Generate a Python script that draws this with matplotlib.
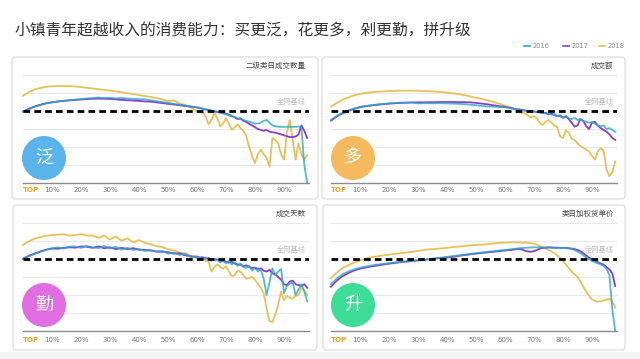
import matplotlib
matplotlib.use("Agg")
import matplotlib.pyplot as plt
from matplotlib.patches import Circle, FancyBboxPatch, Rectangle

plt.rcParams['font.family'] = ['Noto Sans CJK SC', 'DejaVu Sans']

# ---------------- data ----------------
title = "小镇青年超越收入的消费能力：买更泛，花更多，剁更勤，拼升级"
years = ["2016", "2017", "2018"]
tick_pos = [2.6, 10, 20, 30, 40, 50, 60, 70, 80, 90]
tick_labels = ["TOP", "10%", "20%", "30%", "40%", "50%", "60%", "70%", "80%", "90%"]
baseline_value = 4
baseline_label = "全网基线"

X = [0, 2, 4, 6, 8, 10, 12, 14, 16, 18, 20, 22, 24, 26, 28, 30, 32, 34, 36, 38,
     40, 42, 44, 46, 48, 50, 52, 54, 56, 58,
     60, 61, 62, 63, 64, 65, 66, 67, 68, 69, 70, 71, 72, 73, 74, 75, 76, 77, 78, 79,
     80, 81, 82, 83, 84, 85, 86, 87, 88, 89, 90, 91, 92, 93, 94, 95, 96, 97, 98]

panel_titles = ["二级类目成交数量", "成交额", "成交天数", "类目加权货单价"]
badges = ["泛", "多", "勤", "升"]

# panel 1: 二级类目成交数量
p1_2016 = [3.95, 4.1, 4.23, 4.33, 4.42, 4.48, 4.53, 4.57, 4.6, 4.63, 4.66, 4.7, 4.72, 4.75, 4.72, 4.74, 4.7, 4.73, 4.69, 4.68,
           4.66, 4.65, 4.6, 4.55, 4.5, 4.45, 4.4, 4.35, 4.3, 4.25,
           4.2, 4.17, 4.12, 4.1, 4.06, 4.02, 4.0, 3.96, 3.9, 3.86, 3.82, 3.75, 3.7, 3.65, 3.6, 3.55, 3.5, 3.45, 3.4, 3.35,
           3.3, 3.3, 3.35, 3.45, 3.5, 3.35, 3.2, 3.15, 3.13, 3.12, 3.12, 3.12, 3.12, 3.12, 3.12, 3.14, 3.1, 1.0, 0.0]
p1_2017 = [3.97, 4.12, 4.25, 4.35, 4.43, 4.48, 4.53, 4.56, 4.59, 4.62, 4.64, 4.66, 4.68, 4.69, 4.68, 4.67, 4.65, 4.62, 4.6, 4.58,
           4.56, 4.53, 4.52, 4.48, 4.44, 4.4, 4.36, 4.32, 4.28, 4.24,
           4.2, 4.17, 4.12, 4.08, 4.05, 4.02, 3.98, 3.95, 3.92, 3.9, 3.85, 3.8, 3.72, 3.65, 3.55, 3.6, 3.45, 3.4, 3.28, 3.2,
           3.1, 3.0, 2.95, 2.9, 2.95, 2.85, 2.82, 2.8, 2.75, 2.7, 2.65, 2.6, 2.55, 2.55, 2.58, 2.7, 3.2, 2.9, 2.5]
p1_2018 = [4.85, 5.05, 5.2, 5.28, 5.34, 5.37, 5.39, 5.39, 5.38, 5.36, 5.33, 5.29, 5.25, 5.21, 5.17, 5.13, 5.09, 5.04, 4.99, 4.94,
           4.88, 4.83, 4.78, 4.72, 4.65, 4.55, 4.58, 4.42, 4.32, 4.18,
           3.98, 3.92, 3.9, 3.7, 3.25, 3.5, 3.87, 3.6, 3.15, 3.3, 3.6, 3.3, 2.95, 3.1, 3.25, 3.05, 2.9, 2.6, 2.0, 1.5,
           1.1, 1.6, 1.85, 1.6, 1.4, 0.9, 2.5, 2.4, 2.2, 1.6, 1.3, 2.8, 3.5, 2.4, 1.3, 2.2, 1.6, 1.3, 1.55]

# panel 2: 成交额
p2_2016 = [3.5, 3.73, 3.9, 4.03, 4.14, 4.22, 4.28, 4.32, 4.36, 4.39, 4.42, 4.44, 4.46, 4.47, 4.48, 4.42, 4.43, 4.43, 4.43, 4.43,
           4.42, 4.41, 4.4, 4.38, 4.35, 4.32, 4.28, 4.25, 4.24, 4.22,
           4.2, 4.18, 4.15, 4.12, 4.1, 4.07, 4.05, 4.02, 4.0, 3.98, 3.95, 3.97, 3.9, 3.92, 3.85, 3.88, 3.8, 3.82, 3.75, 3.7,
           3.65, 3.72, 3.6, 3.55, 3.62, 3.5, 3.55, 3.45, 3.4, 3.35, 3.4, 3.3, 3.2, 3.15, 3.2, 3.0, 3.05, 2.95, 2.85]
p2_2017 = [3.46, 3.7, 3.87, 4.0, 4.12, 4.21, 4.27, 4.31, 4.35, 4.38, 4.41, 4.43, 4.45, 4.46, 4.47, 4.48, 4.48, 4.49, 4.49, 4.5,
           4.5, 4.5, 4.49, 4.49, 4.48, 4.45, 4.41, 4.37, 4.32, 4.27,
           4.23, 4.2, 4.17, 4.13, 4.1, 4.08, 4.05, 4.03, 4.0, 3.97, 3.99, 3.93, 3.95, 3.88, 3.9, 3.82, 3.85, 3.78, 3.72, 3.75,
           3.62, 3.7, 3.55, 3.35, 3.13, 3.2, 3.55, 3.45, 3.15, 3.0, 3.35, 3.4, 3.2, 3.05, 2.95, 2.85, 2.7, 2.5, 2.4]
p2_2018 = [4.24, 4.45, 4.63, 4.76, 4.87, 4.95, 5.0, 5.04, 5.07, 5.09, 5.11, 5.12, 5.13, 5.13, 5.13, 5.12, 5.11, 5.1, 5.08, 5.05,
           5.02, 4.98, 4.94, 4.88, 4.81, 4.74, 4.67, 4.59, 4.5, 4.4,
           4.3, 4.25, 4.2, 4.12, 4.05, 3.96, 3.9, 3.85, 3.75, 3.65, 3.7, 3.6, 3.35, 3.22, 3.4, 3.5, 3.35, 3.2, 3.1, 2.6,
           2.5, 2.94, 2.8, 2.45, 2.4, 2.2, 2.05, 1.95, 1.85, 1.75, 1.5, 1.3, 1.75, 1.93, 1.8, 0.75, 0.38, 0.6, 1.2]

# panel 3: 成交天数
p3_2016 = [4.0, 4.15, 4.28, 4.4, 4.5, 4.6, 4.65, 4.58, 4.68, 4.7, 4.62, 4.72, 4.65, 4.6, 4.72, 4.58, 4.68, 4.52, 4.62, 4.5,
           4.55, 4.45, 4.5, 4.4, 4.45, 4.3, 4.35, 4.22, 4.28, 4.1,
           4.15, 4.05, 3.95, 4.08, 4.0, 3.9, 4.02, 3.95, 3.8, 3.92, 3.75, 3.9, 3.7, 3.8, 3.62, 3.75, 3.55, 3.5, 3.62, 3.35,
           3.5, 3.3, 3.4, 2.9, 2.0, 2.7, 3.48, 3.1, 3.3, 3.45, 2.1, 2.5, 2.65, 2.7, 2.0, 2.3, 2.6, 2.2, 1.65]
p3_2017 = [4.02, 4.18, 4.3, 4.42, 4.52, 4.58, 4.57, 4.62, 4.65, 4.63, 4.7, 4.68, 4.62, 4.7, 4.6, 4.65, 4.55, 4.62, 4.55, 4.6,
           4.52, 4.5, 4.47, 4.42, 4.4, 4.38, 4.3, 4.32, 4.2, 4.15,
           4.12, 4.08, 4.1, 4.02, 4.05, 3.98, 3.95, 3.98, 3.9, 3.88, 3.85, 3.8, 3.85, 3.75, 3.7, 3.68, 3.6, 3.65, 3.55, 3.5,
           3.52, 3.45, 3.48, 3.35, 3.3, 3.4, 3.2, 3.15, 3.0, 2.85, 2.6, 2.55, 2.75, 2.8, 2.6, 2.55, 2.5, 2.6, 2.4]
p3_2018 = [4.78, 4.98, 5.13, 5.22, 5.29, 5.33, 5.35, 5.38, 5.3, 5.33, 5.38, 5.3, 5.3, 5.18, 5.3, 5.08, 5.25, 5.02, 5.15, 4.92,
           5.05, 4.9, 4.82, 4.72, 4.66, 4.55, 4.48, 4.36, 4.32, 4.15,
           4.05, 4.0, 3.98, 3.9, 3.85, 3.3, 3.55, 3.7, 3.55, 3.45, 3.6, 3.3, 3.05, 3.1, 3.35, 3.3, 3.1, 2.9, 2.95, 3.0,
           2.85, 2.6, 2.4, 2.1, 1.25, 0.55, 0.5, 0.9, 1.45, 2.2, 1.7, 1.95, 1.85, 1.8, 1.95, 2.0, 2.4, 2.25, 2.0]

# panel 4: 类目加权货单价
p4_2016 = [2.6, 2.92, 3.15, 3.3, 3.42, 3.51, 3.58, 3.64, 3.69, 3.73, 3.77, 3.81, 3.84, 3.88, 3.91, 3.94, 3.97, 4.0, 4.04, 4.08,
           4.12, 4.16, 4.2, 4.24, 4.28, 4.32, 4.36, 4.4, 4.43, 4.47,
           4.5, 4.52, 4.54, 4.56, 4.58, 4.6, 4.61, 4.62, 4.63, 4.64, 4.65, 4.65, 4.65, 4.64, 4.64, 4.63, 4.63, 4.62, 4.62, 4.62,
           4.61, 4.6, 4.58, 4.55, 4.5, 4.42, 4.32, 4.2, 4.08, 3.98, 3.9, 3.82, 3.76, 3.7, 3.62, 3.45, 3.1, 1.2, 0.0]
p4_2017 = [2.46, 2.8, 3.05, 3.22, 3.36, 3.46, 3.53, 3.59, 3.64, 3.69, 3.74, 3.78, 3.82, 3.85, 3.89, 3.92, 3.95, 3.98, 4.02, 4.05,
           4.08, 4.12, 4.17, 4.22, 4.26, 4.3, 4.34, 4.37, 4.4, 4.44,
           4.47, 4.49, 4.5, 4.52, 4.55, 4.56, 4.52, 4.45, 4.42, 4.4, 4.44, 4.5, 4.58, 4.62, 4.63, 4.65, 4.64, 4.63, 4.63, 4.62,
           4.62, 4.62, 4.6, 4.58, 4.55, 4.5, 4.43, 4.32, 4.2, 4.08, 3.95, 3.9, 3.82, 3.75, 3.68, 3.55, 3.42, 3.2, 2.5]
p4_2018 = [2.93, 3.25, 3.5, 3.66, 3.8, 3.92, 4.02, 4.1, 4.15, 4.2, 4.24, 4.28, 4.32, 4.36, 4.4, 4.45, 4.5, 4.54, 4.56, 4.59,
           4.62, 4.66, 4.69, 4.72, 4.76, 4.78, 4.8, 4.82, 4.86, 4.9,
           4.91, 4.92, 4.92, 4.93, 4.92, 4.92, 4.9, 4.92, 4.9, 4.88, 4.85, 4.8, 4.72, 4.65, 4.58, 4.5, 4.42, 4.32, 4.2, 4.05,
           3.9, 3.7, 3.5, 3.3, 3.15, 3.0, 2.75, 2.45, 2.2, 1.95, 1.75, 1.68, 1.63, 1.65, 1.7, 1.75, 1.8, 1.65, 1.3]

panels_data = [
    (p1_2016, p1_2017, p1_2018),
    (p2_2016, p2_2017, p2_2018),
    (p3_2016, p3_2017, p3_2018),
    (p4_2016, p4_2017, p4_2018),
]

# ---------------- style / layout ----------------
W, H = 640, 359
C2016, C2017, C2018 = "#2AA6C2", "#8E3CC8", "#E6C15C"
badge_colors = ["#5AB4EA", "#F5B95F", "#E06EE2", "#3DDC97"]

# (x of 0%, y of value 0, frame box x0,y0,x1,y1, badge centre, tick label pad)
layout = [
    (23, 183, (12, 57, 318, 199), (44, 158), 3.0),
    (331, 183, (322, 57, 625, 199), (353, 158), 3.0),
    (23, 331, (13, 205, 317, 350), (44, 305), 4.5),
    (331, 331, (323, 205, 625, 350), (353, 305), 4.5),
]
PX_PER_PCT = 2.9
PX_PER_UNIT = 18
XMAX = 98.5
YMAX = 6.8

fig = plt.figure(figsize=(W / 100, H / 100), dpi=100)
fig.patch.set_facecolor("white")

bg = fig.add_axes([0, 0, 1, 1], zorder=0)
bg.set_xlim(0, W); bg.set_ylim(H, 0); bg.axis("off")
bg.add_patch(Rectangle((0, 352), W, 7, facecolor="#F3F3F3", edgecolor="none"))

fg = fig.add_axes([0, 0, 1, 1], zorder=5)
fg.set_xlim(0, W); fg.set_ylim(H, 0); fg.axis("off")
fg.patch.set_alpha(0)

fg.text(15, 31, title, fontsize=11.3, color="#333333", va="center", ha="left")

# legend
for (x0, col, lab) in [(524, C2016, years[0]), (563, C2017, years[1]), (599, C2018, years[2])]:
    fg.plot([x0, x0 + 6], [46, 46], color=col, lw=1.2)
    fg.text(x0 + 9, 46, lab, fontsize=4.8, color="#888888", va="center", ha="left",
            family="DejaVu Sans")

for i, (x0, y0, frame, bc, pad) in enumerate(layout):
    fx0, fy0, fx1, fy1 = frame
    bg.add_patch(FancyBboxPatch((fx0, fy0), fx1 - fx0, fy1 - fy0,
                                boxstyle="round,pad=0,rounding_size=3",
                                facecolor="white", edgecolor="#DDDDDD", lw=0.9))
    w_px = PX_PER_PCT * XMAX
    h_px = PX_PER_UNIT * YMAX
    ax = fig.add_axes([x0 / W, 1 - y0 / H, w_px / W, h_px / H], zorder=2)
    ax.set_xlim(0, XMAX)
    ax.set_ylim(0, YMAX)
    ax.patch.set_alpha(0)
    for s in ax.spines.values():
        s.set_visible(False)
    ax.set_yticks([])
    for g in [1, 2, 3, 5, 6]:
        ax.axhline(g, color="#E9E9E9", lw=0.8, zorder=1)
    ax.axhline(0, color="#8C8C8C", lw=1.0, zorder=2, clip_on=False)

    s16, s17, s18 = panels_data[i]
    ax.plot(X, s18, color=C2018, lw=1.3, zorder=3, clip_on=False)
    ax.plot(X, s17, color=C2017, lw=1.3, zorder=4, clip_on=False)
    ax.plot(X, s16, color=C2016, lw=1.3, alpha=0.8, zorder=5, clip_on=False)

    ax.plot([0, XMAX], [baseline_value, baseline_value], color="black", lw=2.0,
            linestyle=(0, (2.4, 1.5)), zorder=6)
    ax.text(97.5, 4.5, baseline_label, fontsize=5.2, color="#BBBBBB", ha="right", va="center")
    ax.text(97.5, 6.5, panel_titles[i], fontsize=5.4, color="#444444", ha="right", va="center")

    ax.set_xticks(tick_pos)
    ax.set_xticklabels(tick_labels, family="DejaVu Sans", fontsize=5.0, color="#777777")
    ax.tick_params(axis="x", length=0, pad=pad)
    ax.get_xticklabels()[0].set_color("#F0A22A")
    ax.get_xticklabels()[0].set_fontweight("bold")

    fg.add_patch(Circle(bc, 22, facecolor=badge_colors[i], edgecolor="none"))
    fg.text(bc[0], bc[1], badges[i], fontsize=13, color="white", ha="center", va="center")

fig.savefig("out.png", dpi=100, facecolor="white")
